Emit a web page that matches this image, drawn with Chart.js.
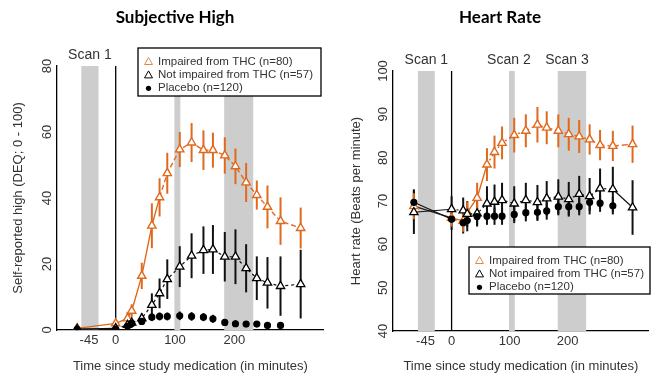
<!DOCTYPE html>
<html>
<head>
<meta charset="utf-8">
<script src="https://cdn.jsdelivr.net/npm/chart.js@4"></script>
<style>
  body { margin: 0; background: #fff; width: 655px; height: 376px; overflow: hidden; position: relative; }
  #wrapHigh { position: absolute; left: 0; top: 0; width: 330px; height: 376px; }
  #wrapHr { position: absolute; left: 330px; top: 0; width: 325px; height: 376px; }
</style>
</head>
<body>
<div id="wrapHigh"><canvas id="highChart" width="330" height="376"></canvas></div>
<div id="wrapHr"><canvas id="hrChart" width="325" height="376"></canvas></div>
<script>
// minutes since study medication
const times = [-65, 0, 20, 27, 44, 61, 74, 87, 108, 128, 148, 164, 184, 202, 220, 238, 256, 278, 312];
const xTicks = [-45, 0, 100, 200];
const scanBands = [[-58, -29], [99, 109], [183, 232]];
const scanNames = ["Scan 1", "Scan 2", "Scan 3"];
const groupLabels = ["Impaired from THC (n=80)", "Not impaired from THC (n=57)", "Placebo (n=120)"];

// subjective high (DEQ 0-100)
const highTicks = [0, 20, 40, 60, 80];
const highImpaired = [0.5, 2, 3.5, 5.8, 16.4, 31.6, 40.2, 47.5, 54.7, 56.8, 54.5, 54.5, 52.9, 49.6, 44.7, 40.9, 37.3, 33, 30.9];
const highImpairedErr = [0.5, 1, 2, 2, 4, 6.8, 5.8, 6.2, 5.3, 5.9, 6, 5.3, 5.5, 5.4, 5.9, 4.4, 6.5, 7.2, 6.2];
const highNotImpaired = [0.3, 0.5, 1.5, 2.2, 3.5, 7.6, 11.1, 15.4, 19.2, 22.5, 24.2, 24.4, 22.2, 22.2, 18.7, 15.7, 14.3, 13.3, 13.9];
const highNotImpairedErr = [0.3, 0.5, 0.8, 1, 1.5, 3.5, 4.5, 6, 6.2, 6.8, 7.2, 7.4, 7.5, 8.3, 7.3, 6.6, 7.8, 9, 10.4];
const highPlacebo = [0.2, 0.3, 1.2, 2.0, 2.6, 3.9, 4.1, 4.1, 4.3, 4.1, 3.9, 3.4, 2.3, 1.9, 1.8, 1.8, 1.4, 1.4, null];
const highPlaceboErr = [0.3, 0.3, 0.8, 1, 1, 1.2, 1.2, 1.2, 1.3, 1.3, 1.2, 1.2, 1, 1, 0.9, 0.9, 0.9, 0.9, null];

// heart rate (bpm)
const hrTicks = [40, 50, 60, 70, 80, 90, 100];
const hrImpaired = [68.8, 66.1, 65.4, 67.4, 70.7, 78.4, 81.3, 83.4, 85.2, 86.2, 87.6, 86.9, 86.2, 85.4, 84.9, 84.2, 82.9, 82.7, 83.1];
const hrImpairedErr = [3, 2, 2.5, 2.5, 3.5, 3.8, 3.8, 3.8, 4, 3.8, 4.1, 3.8, 3.8, 3.8, 3.8, 3.5, 3.5, 3.5, 4.3];
const hrNotImpaired = [67.4, 68.1, 67.8, 67.0, 67.1, 69.4, 69.8, 70.2, 69.4, 70.2, 69.7, 70.6, 71.0, 70.4, 71.6, 71.1, 72.9, 72.7, 68.5];
const hrNotImpairedErr = [5, 3, 3, 3, 3, 4, 4, 4, 4, 4, 4, 4, 4, 4, 4.2, 4.2, 4.6, 5.2, 6.3];
const hrPlacebo = [69.7, 65.8, 65.0, 65.5, 66.4, 66.5, 66.5, 66.5, 66.9, 67.3, 67.4, 67.7, 68.7, 68.7, 68.7, 69.7, 69.5, 68.9, null];
const hrPlaceboErr = [3, 2.5, 2.5, 2.5, 2, 2, 2, 2, 2, 2, 2, 2, 2, 2, 2, 2, 2, 2, null];

const orange = "#e0691e";
const textColor = "#333";
const sans = "'Liberation Sans', Arial, sans-serif";

function points(values) {
  return values.map((v, i) => ({ x: times[i], y: v }));
}

// draws scan bands, the t=0 line, error bars, and all the loose text
const decor = {
  id: "decor",
  beforeDatasetsDraw(chart, args, opts) {
    const { ctx, chartArea: a, scales: { x, y } } = chart;
    ctx.save();
    ctx.fillStyle = "#cdcdcd";
    scanBands.forEach(b => {
      const x0 = x.getPixelForValue(b[0]);
      const x1 = x.getPixelForValue(b[1]);
      ctx.fillRect(x0, a.top, x1 - x0, a.bottom - a.top);
    });

    const zx = x.getPixelForValue(0);
    ctx.strokeStyle = "#000";
    ctx.lineWidth = 1.3;
    ctx.beginPath();
    ctx.moveTo(zx, a.top);
    ctx.lineTo(zx, a.bottom);
    ctx.stroke();

    chart.data.datasets.forEach(ds => {
      ctx.strokeStyle = ds.barColor;
      ctx.lineWidth = 2;
      ds.data.forEach((p, i) => {
        const e = ds.errors[i];
        if (p.y == null || e == null) return;
        const px = x.getPixelForValue(p.x);
        ctx.beginPath();
        ctx.moveTo(px, y.getPixelForValue(p.y - e));
        ctx.lineTo(px, y.getPixelForValue(p.y + e));
        ctx.stroke();
      });
    });
    ctx.restore();
  },
  afterDraw(chart, args, opts) {
    const { ctx, chartArea: a, scales: { x, y } } = chart;
    ctx.save();

    ctx.fillStyle = "#000";
    ctx.font = "bold 17px Lato, sans-serif";
    ctx.textAlign = "center";
    ctx.textBaseline = "middle";
    ctx.fillText(opts.title, opts.titleX, 18);

    // rotated y tick labels, R style
    ctx.fillStyle = textColor;
    ctx.font = "13px " + sans;
    opts.yTicks.forEach(v => {
      ctx.save();
      ctx.translate(a.left - 10, y.getPixelForValue(v));
      ctx.rotate(-Math.PI / 2);
      ctx.fillText(String(v), 0, 0);
      ctx.restore();
    });

    ctx.font = "14px " + sans;
    opts.scans.forEach(i => {
      const cx = (x.getPixelForValue(scanBands[i][0]) + x.getPixelForValue(scanBands[i][1])) / 2;
      ctx.fillText(scanNames[i], cx + (opts.scanShift[i] || 0), a.top - 11);
    });

    // legend box
    const L = opts.legend;
    ctx.fillStyle = "#fff";
    ctx.fillRect(L.x, L.y, L.w, L.h);
    ctx.strokeStyle = "#000";
    ctx.lineWidth = 1.3;
    ctx.strokeRect(L.x, L.y, L.w, L.h);
    ctx.font = "11.5px " + sans;
    ctx.textAlign = "left";
    const markers = ["#e08a4a", "#000", null];
    groupLabels.forEach((label, i) => {
      const cy = L.y + 13.5 + i * 13.4;
      const mx = L.x + 10.5;
      if (markers[i]) {
        ctx.strokeStyle = markers[i];
        ctx.lineWidth = 1;
        ctx.beginPath();
        ctx.moveTo(mx, cy - 4);
        ctx.lineTo(mx + 4, cy + 3);
        ctx.lineTo(mx - 4, cy + 3);
        ctx.closePath();
        ctx.stroke();
      } else {
        ctx.fillStyle = "#000";
        ctx.beginPath();
        ctx.arc(mx, cy, 2.6, 0, Math.PI * 2);
        ctx.fill();
      }
      ctx.fillStyle = textColor;
      ctx.fillText(label, L.x + 20, cy);
    });
    ctx.restore();
  }
};

function makeChart(canvasId, cfg) {
  const datasets = [
    {
      label: groupLabels[2],
      data: points(cfg.placebo),
      errors: cfg.placeboErr,
      barColor: "#111",
      borderColor: "#111",
      borderWidth: 1.2,
      pointStyle: "circle",
      pointRadius: 3,
      pointBackgroundColor: "#000",
      pointBorderColor: "#000",
      segment: {
        borderColor: c => c.p0.parsed.x < 0 ? "#111" : "rgba(0,0,0,0)"
      }
    },
    {
      label: groupLabels[1],
      data: points(cfg.notImpaired),
      errors: cfg.notImpairedErr,
      barColor: "#111",
      borderColor: "#111",
      borderWidth: 1.2,
      pointStyle: "triangle",
      pointRadius: 4.8,
      pointBackgroundColor: "#fff",
      pointBorderColor: "#000",
      pointBorderWidth: 1.3,
      segment: { borderDash: cfg.notImpairedDash }
    },
    {
      label: groupLabels[0],
      data: points(cfg.impaired),
      errors: cfg.impairedErr,
      barColor: orange,
      borderColor: orange,
      borderWidth: 1.4,
      pointStyle: "triangle",
      pointRadius: 4.8,
      pointBackgroundColor: "#fff",
      pointBorderColor: orange,
      pointBorderWidth: 1.4,
      segment: {
        borderDash: cfg.impairedDash,
        borderColor: c => (c.p0.parsed.x < 0 ? cfg.firstSegColor : orange)
      }
    }
  ];

  return new Chart(document.getElementById(canvasId), {
    type: "line",
    data: { datasets: datasets },
    plugins: [decor],
    options: {
      responsive: false,
      animation: false,
      events: [],
      layout: { padding: { top: cfg.top, right: cfg.right, left: 0, bottom: 0 } },
      plugins: {
        legend: { display: false },
        tooltip: { enabled: false },
        decor: {
          title: cfg.title,
          titleX: cfg.titleX,
          yTicks: cfg.yTicks,
          scans: cfg.scans,
          scanShift: cfg.scanShift,
          legend: cfg.legend
        }
      },
      scales: {
        x: {
          type: "linear",
          min: cfg.xMin,
          max: cfg.xMax,
          afterBuildTicks: s => { s.ticks = xTicks.map(v => ({ value: v })); },
          afterFit: s => { s.height = 376 - cfg.bottom; },
          ticks: { color: textColor, font: { size: 13, family: sans }, padding: 3, maxRotation: 0, autoSkip: false },
          grid: { display: false, drawTicks: false },
          border: { display: true, color: "#000", width: 1.3 },
          title: {
            display: true,
            text: "Time since study medication (in minutes)",
            color: textColor,
            font: { size: 13, family: sans },
            padding: { top: 0, bottom: 2 }
          }
        },
        y: {
          min: cfg.yTicks[0],
          max: cfg.yTicks[cfg.yTicks.length - 1],
          afterFit: s => { s.width = cfg.left; },
          ticks: { display: false },
          grid: { display: false, drawTicks: false },
          border: { display: true, color: "#000", width: 1.3 },
          title: {
            display: true,
            text: cfg.yTitle,
            color: textColor,
            font: { size: 13, family: sans },
            padding: { top: cfg.yTitlePad, bottom: 0 }
          }
        }
      }
    }
  });
}

makeChart("highChart", {
  title: "Subjective High",
  titleX: 175,
  yTitle: "Self-reported high (DEQ; 0 - 100)",
  yTitlePad: 11,
  yTicks: highTicks,
  xMin: -99, xMax: 351,
  top: 66, bottom: 330, left: 57, right: 5,
  impaired: highImpaired, impairedErr: highImpairedErr,
  notImpaired: highNotImpaired, notImpairedErr: highNotImpairedErr,
  placebo: highPlacebo, placeboErr: highPlaceboErr,
  firstSegColor: orange,
  impairedDash: c => (c.p0.parsed.x < 74 ? undefined : [5, 3]),
  notImpairedDash: c => (c.p0.parsed.x < 0 ? undefined : [3, 3]),
  scans: [0],
  scanShift: [0],
  legend: { x: 138, y: 48, w: 183, h: 48 }
});

makeChart("hrChart", {
  title: "Heart Rate",
  titleX: 170,
  yTitle: "Heart rate (Beats per minute)",
  yTitlePad: 19,
  yTicks: hrTicks,
  xMin: -101, xMax: 340,
  top: 71, bottom: 331, left: 63, right: 0,
  impaired: hrImpaired, impairedErr: hrImpairedErr,
  notImpaired: hrNotImpaired, notImpairedErr: hrNotImpairedErr,
  placebo: hrPlacebo, placeboErr: hrPlaceboErr,
  firstSegColor: "#222",
  impairedDash: c => (c.p0.parsed.x < 61 ? undefined : (c.p0.parsed.x > 270 ? [6, 3] : [2, 3])),
  notImpairedDash: c => (c.p0.parsed.x < 0 || c.p0.parsed.x > 270 ? undefined : [2, 3]),
  scans: [0, 1, 2],
  scanShift: [0, -3, -5],
  legend: { x: 139, y: 247, w: 181, h: 47 }
});
</script>
</body>
</html>
